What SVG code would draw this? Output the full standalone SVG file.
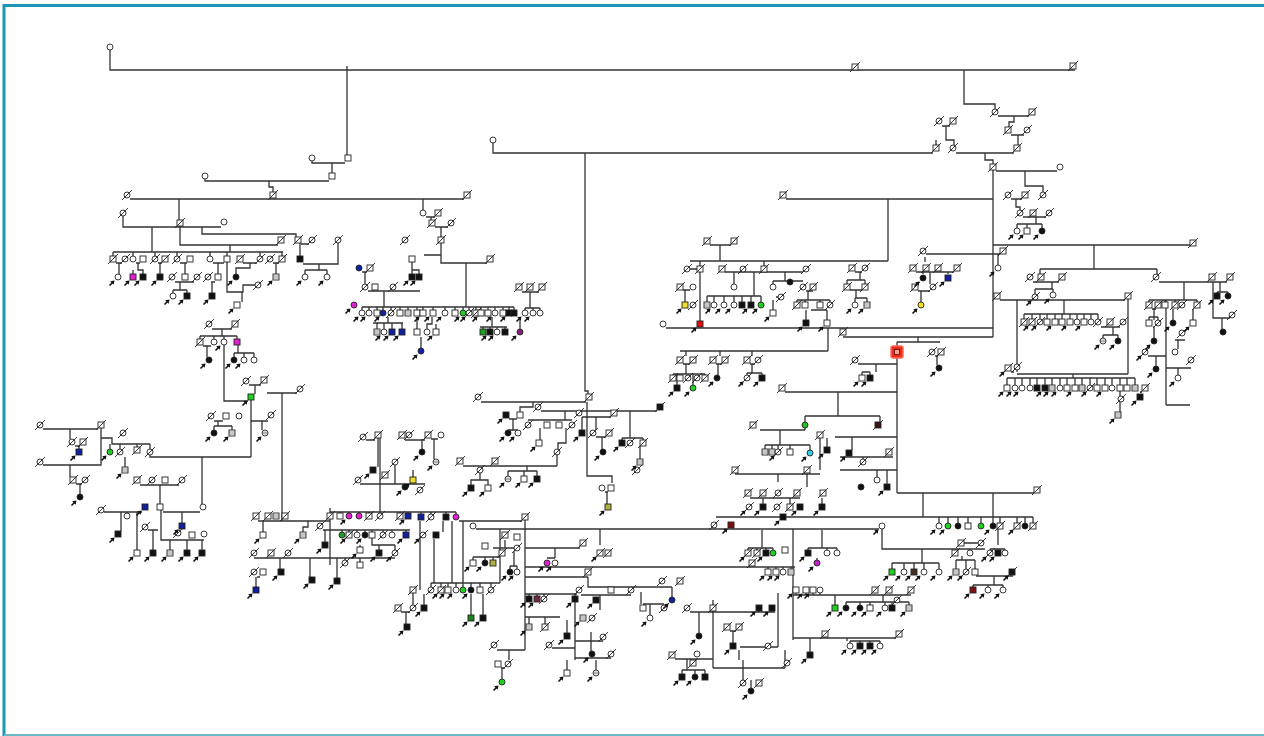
<svg xmlns="http://www.w3.org/2000/svg" xmlns:xlink="http://www.w3.org/1999/xlink" width="1264" height="736" viewBox="0 0 1264 736">
<style>
.ln{fill:none;stroke:#333;stroke-width:1.3}
.fr{fill:#fff;stroke:none}
.bd{stroke:#1b97b5;stroke-width:3;fill:none}
.bd2{stroke:#6ab8c8;stroke-width:2;fill:none}
</style>
<defs>
<g id="S"><rect x="-3" y="-3" width="6" height="6" stroke="#222" stroke-width="0.9"/></g>
<g id="C"><circle r="3" stroke="#222" stroke-width="0.9"/></g>
<g id="SD"><use href="#S"/><path d="M-5,5L5,-5" stroke="#222" stroke-width="0.9" fill="none"/></g>
<g id="CD"><use href="#C"/><path d="M-5,5L5,-5" stroke="#222" stroke-width="0.9" fill="none"/></g>
<g id="SP"><use href="#S"/><path d="M-3,-1H3M-3,1H3" stroke="#444" stroke-width="0.6" fill="none"/></g>
<g id="CP"><use href="#C"/><path d="M-3,-0.8H3M-3,0.8H3" stroke="#444" stroke-width="0.6" fill="none"/></g>
<g id="A"><path d="M-8.5,8.5L-5,5" stroke="#111" stroke-width="1.6" fill="none"/><path d="M-3.5,3.5L-7.8,4.3L-4.3,7.8Z" fill="#111"/></g>
</defs>
<rect class="fr" x="0" y="0" width="1264" height="736"/>
<path class="bd" d="M4,736V5.5H1264"/>
<path class="bd2" d="M4,735H1264"/>

<g id="connectors" class="ln">
<path d="M110,50V70H1075M347,66V155M312,161V163H345M332,163V173M205,179V181H329M269,181V187H273V192M130,199H464M964,70V104H995V109M998,116H1029M1014,116V122H1009V127M1011,135H1024M1018,135V145M942,126H950M946,126V140H954V145M936,140V145M493,143V153H933M956,153H1014M585,153V391H588V395M985,153V160H993V164M996,171H1057M993,170V337M1025,171V186H1043V192M1011,199H1022M1016,199V207H1020V210M1023,217H1046M1036,217V224M1017,224H1042M1017,224V228M1027,224V228M1042,224V228M786,199H993M888,199V261M993,245H1190"/>
<path d="M179,199V220M123,216V227H221M152,227V252M180,226V245H278M230,245V252M202,227V234H296V237M301,244H309M113,252H283M113,252V256M133,252V256M155,252V256M177,252V256M210,252V256M227,252V256M260,252V256M282,252V256M116,263H122M136,263H140M158,263H162M180,263H187M213,263H224M243,263H257M273,263H279M119,263V274M138,263V270H143V274M133,270V274M160,263V274M185,263V274M218,263V274M250,263V268H236V274M276,263V274M175,282H194M180,282V290M173,290H187M173,290V293M187,290V293M211,282H215M212,282V293M227,262V292H243V285H255M242,292V302M300,243V256M303,264H338V243M319,264V270M305,270H327M305,270V274M327,270V274"/>
<path d="M423,199V210M426,217H435M431,217V220M435,227H448M441,227V237M441,243V263H487M466,263V307M412,262V270M412,270H419V274M412,270V274M424,255H441M362,272H367M365,272V284M368,291H420M384,291V307M362,307H514M362,307V310M369,307V310M377,307V310M383,307V310M391,307V310M400,307V310M408,307V310M417,307V310M423,307V310M433,307V310M445,307V310M455,307V310M463,307V310M469,307V310M476,307V310M481,307V310M488,307V310M495,307V310M503,307V310M509,307V310M514,307V310M522,292H539M530,292V308M525,308H540M525,308V310M533,308V310M540,308V310M373,323H403M388,317V323M377,323V329M384,323V329M392,323V329M402,323V329M417,317V329M432,317V324H427V329M436,324V329M480,327H507M492,317V327M483,327V329M490,327V329M497,327V329M505,327V329M520,317V329M421,337V348"/>
<path d="M212,329H232M222,329V336M200,336H237M200,336V339M214,336V339M224,336V339M237,336V339M203,346H211M207,346V357M238,345V353M234,353H254M234,353V357M244,353V357M254,353V357M224,345V401H248M251,400V457M200,457H251M249,385H261M255,385V394M267,393H297M282,393V521M214,421H223M218,421V426M214,426H232M214,426V430M232,426V430M251,421H268M262,421V430"/>
<path d="M43,429H98M101,428V465H43M70,429V439M75,446H80M79,446V449M101,438H112V444H150M110,444V449M120,444V449M137,444V447M150,444V449M150,455V457H200M202,457V504M70,465V477M76,484H82M80,484V494M125,457V467M140,485H179M160,485V504M104,512H142M127,512V513M121,512V531M137,512V550M163,512H200M182,512V523M148,530H158M153,530V550M161,510V540H204M170,540V550M187,540V550M202,540V550"/>
<path d="M258,521H330M263,521V532M308,521V527H303V532M323,530H330M325,530V542M330,508V565M330,512H456M340,512V513M349,512V513M359,512V513M369,512V513M380,512V513M400,512V513M408,512V513M421,512V514M431,512V514M446,512V514M456,512V514M330,530H410M342,530V532M349,530V532M357,530V532M365,530V532M372,530V532M383,530V532M392,530V532M406,530V532M330,558H395M345,558V560M360,558V562M372,538V545H395M379,545V550M395,545V550M360,545V547M254,558H330M280,558V569M310,558V577M337,558V578M257,577H260M256,577V587M380,490V512"/>
<path d="M459,521H522M476,529H879M525,520V650M497,650H525M500,529V583M431,583H500M431,583V587M441,583V587M448,583V587M456,583V587M463,521V587M471,583V587M480,583V587M491,583V587M452,521V583M434,539V583M443,521V532M493,548H514M473,557H500M473,557V560M485,557V560M493,557V560M505,540V548M514,551V566M510,566H517M510,566V569M517,566V569M471,594V615M483,594V615M424,594V605M509,650V660M501,668H505M502,668V679"/>
<path d="M481,402H586M533,402V407H520V412M509,419H517M513,419V430M508,430H518M541,411H657M565,411V420M528,420H572M540,428V440M566,428V443H558V449M557,455V466M463,466H557M480,473V480H471V485M480,480H488V485M527,466V471M508,471H537M508,471V476M524,471V476M537,471V476M587,402V476H612V483M605,492H608M607,492V504M630,411V438M622,438H643M622,438V440M643,438V440M640,446V459M582,417H611M582,417V430M596,417V430M596,437H606M602,437V449"/>
<path d="M710,245H731M720,245V261M690,261H888M690,269H697M700,261V266M725,272H803M764,261V266M683,290H690M685,290V302M700,272V321M734,272V284M707,296H761M707,296V302M714,296V302M724,296V302M734,296V302M742,296V302M751,296V302M761,296V302M754,272V296M773,281H803M785,272V281M773,281V284M806,291H813M808,291V300M797,300H830M797,300V302M805,300V302M820,300V302M830,300V302M811,310H827M806,310V320M827,310V320M773,300V310M776,297H781M855,272H862M860,272V280M847,280H865M847,280V284M865,280V284M850,290H862M856,290V298M855,298H867M855,298V302M867,298V302M666,328H993M828,328V351M680,351H828M686,351V356M683,364H690M686,364V374M673,374H705M673,374V375M705,374V375M677,374V385M693,374V385M720,351V356M716,364H722M718,364V375M752,351V356M750,364H755M752,364V373M747,373H762M747,373V375M762,373V375"/>
<path d="M926,254H1000M998,254V265M925,257V262M916,272H954M923,272V274M948,272V274M930,272V284M918,291H930M921,291V302M843,337H993M918,337V342M897,342H940M897,342V346M935,356H938M937,356V365M897,357V493M858,364H897M876,364V372M862,372H870M862,372V375M870,372V375M785,392H897M838,392V416M805,416H880M805,416V430M760,430H805M780,430V445M765,445H810M765,445V449M772,445V449M778,445V449M790,445V449M810,445V450M820,438V470M827,438V447M735,474H820M778,474V482M807,474V487M880,416V422M835,437H897M852,437V450M840,457H893M863,457V459M840,470H897M877,470V477M887,470V484M750,498H800M763,498V504M790,498V504M822,498V504"/>
<path d="M897,493H1034M923,493V517M993,493V517M716,517H1033M939,517V523M948,517V523M958,517V523M968,517V523M981,517V523M993,517V523M1000,517V523M1017,517V523M1025,517V523M1033,517V523M882,529V549H985M922,549V563M892,563H939M892,563V569M904,563V569M914,563V569M924,563V569M939,563V569M964,543H978M958,549V550M970,549V550M956,560H975M956,560V569M966,560V569M975,560V569M962,556V560M976,576H1013M994,576V585M973,585H1003M973,585V587M988,585V587M1003,585V587M998,529V545M990,549H1005M990,549V550M1005,549V550M793,595H911M883,595V602M846,602H909M846,602V605M860,602V605M870,602V605M885,602V605M892,602V605M909,602V605M793,638H896M847,638V641M850,641H880M850,641V643M860,641V643M870,641V643M880,641V643M810,638V652"/>
<path d="M525,548H580M555,548V558M547,558H555M600,529V545M525,567H795M525,577H588M588,577V587H672M672,587V597M525,594H577M529,594V596M537,594V596M544,594V596M575,594V596M581,595H631M600,595V610M525,617H560M529,617V624M545,617V624M575,598V660M567,620V633M552,648H575M575,641H603M591,632V651M575,658H611M596,660V670M567,660V670M641,592V604M643,604H664M650,604V615M713,600V668M690,612H713M699,612V633M675,659H713M687,659V670M682,670H705M682,670V674M695,670V674M705,670V674M713,668H785M785,650V668M739,650V660M713,612H775M759,612V605M772,612V605M778,593V647M740,647H778M733,631V643M730,631H736M793,529V640M762,530V548M748,548H773M748,548V550M757,548V550M766,548V550M773,548V550M768,567V569M776,567V569M783,567V569M791,567V569M808,548H837M822,530V548M808,548V550M827,548V550M837,548V550M817,558V560M796,593V595M806,593V595M813,593V595M820,593V595M835,595V605M743,660V680M751,680V688M759,680V680"/>
<path d="M1094,245V269M1040,269H1157M1040,269V274M1157,269V274M1033,282H1059M1052,282V289M1035,289H1053M1035,289V294M1053,289V292M1000,300H1125M1017,300V372M1011,372H1014M1128,299V374M1017,374H1128M1073,374V378M1007,378H1135M1007,378V385M1015,378V385M1022,378V385M1030,378V385M1037,378V385M1045,378V385M1052,378V385M1060,378V385M1067,378V385M1075,378V385M1082,378V385M1090,378V385M1097,378V385M1105,378V385M1112,378V385M1120,378V396M1127,378V385M1135,378V385M1064,300V314M1024,314H1098M1024,314V319M1032,314V319M1040,314V319M1047,314V319M1055,314V319M1062,314V319M1070,314V319M1077,314V319M1084,314V319M1091,314V319M1098,314V319M1101,327H1120M1113,327V335M1103,335H1118M1103,335V338M1118,335V338M1140,392H1142M1120,402V412M1159,282H1227M1184,282V300M1149,300H1197M1149,300V302M1165,300V302M1175,300V302M1197,300V302M1166,300V405M1152,309H1156M1154,309V320M1149,317H1158M1158,317V320M1149,317V320M1193,309V320M1173,309V320M1154,326V338M1148,356H1166M1156,356V366M1175,340H1185M1178,340V349M1166,368H1191M1178,368V375M1166,405H1190M1213,282V318H1230M1220,282V292M1217,292H1228M1217,292V293M1228,292V293M1222,318V329"/>
<path d="M366,440H375M378,438V467M405,440H425M431,439H438M434,439V459M422,439V449M360,484H425M395,465V484M413,470V477M380,438V490M401,612H410M406,612V624M413,593V605M420,521V590"/>
</g>

<g id="nodes" fill="#fff">
<use id="t1" href="#C" x="110" y="47"/><use id="t2" href="#S" x="348" y="158"/><use id="t3" href="#C" x="312" y="158"/><use id="t4" href="#S" x="332" y="176"/><use id="t5" href="#C" x="205" y="176"/><use id="t6" href="#SD" x="273" y="195"/><use id="t7" href="#CD" x="127" y="195"/><use id="t8" href="#SD" x="467" y="195"/><use id="t9" href="#SD" x="855" y="67"/><use id="t10" href="#SD" x="1073" y="66"/><use id="t11" href="#CD" x="995" y="112"/><use id="t12" href="#SD" x="1032" y="112"/><use id="t13" href="#SD" x="1008" y="130"/><use id="t14" href="#CD" x="1027" y="130"/><use id="t15" href="#SD" x="1017" y="148"/><use id="t16" href="#CD" x="939" y="121"/><use id="t17" href="#SD" x="953" y="121"/><use id="t18" href="#SD" x="936" y="148"/><use id="t19" href="#CD" x="953" y="148"/><use id="t20" href="#C" x="493" y="140"/><use id="t21" href="#SD" x="993" y="167"/><use id="t22" href="#C" x="1060" y="167"/><use id="t23" href="#CD" x="1008" y="195"/><use id="t24" href="#SD" x="1025" y="195"/><use id="t25" href="#CD" x="1043" y="195"/><use id="t26" href="#CD" x="1020" y="213"/><use id="t27" href="#SD" x="1033" y="213"/><use id="t28" href="#CD" x="1049" y="213"/><use id="t29" href="#C" x="1017" y="231"/><use id="t30" href="#S" x="1027" y="231"/><use id="t31" href="#C" x="1042" y="231" fill="#111"/><use id="t32" href="#SD" x="783" y="195"/><use id="t33" href="#SD" x="1193" y="243"/>

<use id="a1" href="#CD" x="123" y="213"/><use id="a2" href="#SD" x="180" y="223"/><use id="a3" href="#C" x="224" y="222"/><use id="a4" href="#SD" x="281" y="240"/><use id="a5" href="#SD" x="298" y="240"/><use id="a6" href="#CD" x="312" y="240"/><use id="a7" href="#CD" x="338" y="240"/><use id="a8" href="#CD" x="405" y="240"/>
<use id="a9" href="#SD" x="113" y="259"/><use id="a10" href="#CD" x="125" y="259"/><use id="a11" href="#C" x="133" y="259"/><use id="a12" href="#S" x="143" y="259"/><use id="a13" href="#CD" x="155" y="259"/><use id="a14" href="#SD" x="165" y="259"/><use id="a15" href="#CD" x="177" y="259"/><use id="a16" href="#S" x="190" y="259"/><use id="a17" href="#C" x="210" y="259"/><use id="a18" href="#S" x="227" y="259"/><use id="a19" href="#SD" x="240" y="259"/><use id="a20" href="#CD" x="260" y="259"/><use id="a21" href="#CD" x="270" y="259"/><use id="a22" href="#SD" x="282" y="259"/><use id="a23" href="#S" x="300" y="259" fill="#111"/>
<use id="a24" href="#C" x="118" y="277"/><use id="a25" href="#S" x="133" y="277" fill="#e020d0"/><use id="a26" href="#S" x="143" y="277" fill="#111"/><use id="a27" href="#S" x="160" y="277" fill="#111"/><use id="a28" href="#CD" x="172" y="277"/><use id="a29" href="#S" x="185" y="277"/><use id="a30" href="#CD" x="197" y="277"/><use id="a31" href="#CD" x="208" y="277"/><use id="a32" href="#S" x="218" y="277"/><use id="a33" href="#C" x="236" y="277" fill="#111"/><use id="a34" href="#SP" x="276" y="277"/><use id="a35" href="#C" x="305" y="277"/><use id="a36" href="#C" x="327" y="277"/><use id="a37" href="#C" x="173" y="296"/><use id="a38" href="#S" x="187" y="296" fill="#111"/><use id="a39" href="#S" x="212" y="296" fill="#111"/><use id="a40" href="#CD" x="258" y="285"/><use id="a41" href="#S" x="237" y="305"/>

<use id="b1" href="#C" x="423" y="213"/><use id="b2" href="#SD" x="438" y="213"/><use id="b3" href="#SD" x="432" y="223"/><use id="b4" href="#CD" x="451" y="223"/><use id="b5" href="#SD" x="441" y="240"/><use id="b6" href="#S" x="412" y="259"/><use id="b7" href="#S" x="412" y="277" fill="#111"/><use id="b8" href="#S" x="419" y="277" fill="#111"/><use id="b9" href="#SD" x="490" y="259"/>
<use id="b10" href="#C" x="359" y="268" fill="#1020a0"/><use id="b11" href="#SD" x="370" y="268"/><use id="b12" href="#CD" x="365" y="287"/><use id="b13" href="#S" x="375" y="287"/><use id="b14" href="#CD" x="393" y="287"/>
<use id="b15" href="#C" x="362" y="313"/><use id="b16" href="#C" x="369" y="313"/><use id="b17" href="#S" x="377" y="313"/><use id="b18" href="#C" x="383" y="313" fill="#1020a0"/><use id="b19" href="#CD" x="391" y="313"/><use id="b20" href="#S" x="400" y="313"/><use id="b21" href="#SP" x="408" y="313"/><use id="b22" href="#S" x="417" y="313"/><use id="b23" href="#S" x="423" y="313"/><use id="b24" href="#S" x="433" y="313"/><use id="b25" href="#C" x="445" y="313"/><use id="b26" href="#S" x="455" y="313"/><use id="b27" href="#C" x="463" y="313" fill="#20d020"/><use id="b28" href="#CD" x="469" y="313"/><use id="b29" href="#SD" x="476" y="313"/><use id="b30" href="#S" x="481" y="313"/><use id="b31" href="#S" x="488" y="313"/><use id="b32" href="#C" x="495" y="313"/><use id="b33" href="#S" x="503" y="313"/><use id="b34" href="#S" x="509" y="313" fill="#111"/><use id="b35" href="#S" x="514" y="313" fill="#111"/>
<use id="b36" href="#SD" x="519" y="287"/><use id="b37" href="#SD" x="530" y="287"/><use id="b38" href="#SD" x="542" y="287"/><use id="b39" href="#C" x="525" y="313"/><use id="b40" href="#C" x="533" y="313"/><use id="b41" href="#C" x="540" y="313"/><use id="b42" href="#C" x="354" y="305" fill="#e020d0"/>
<use id="b43" href="#SP" x="377" y="332"/><use id="b44" href="#C" x="384" y="332"/><use id="b45" href="#S" x="392" y="332" fill="#1020a0"/><use id="b46" href="#S" x="402" y="332" fill="#1020a0"/><use id="b47" href="#S" x="417" y="332"/><use id="b48" href="#C" x="427" y="332"/><use id="b49" href="#S" x="436" y="332"/><use id="b50" href="#S" x="483" y="332" fill="#20a020"/><use id="b51" href="#S" x="490" y="332" fill="#111"/><use id="b52" href="#C" x="497" y="332"/><use id="b53" href="#S" x="505" y="332" fill="#111"/><use id="b54" href="#C" x="520" y="332" fill="#802080"/><use id="b55" href="#C" x="421" y="351" fill="#1020a0"/>

<use id="c1" href="#CD" x="209" y="324"/><use id="c2" href="#SD" x="235" y="324"/><use id="c3" href="#SD" x="200" y="342"/><use id="c4" href="#C" x="214" y="342"/><use id="c5" href="#C" x="224" y="342"/><use id="c6" href="#S" x="237" y="342" fill="#e020d0"/><use id="c7" href="#C" x="209" y="360" fill="#111"/><use id="c8" href="#C" x="234" y="360" fill="#111"/><use id="c9" href="#C" x="244" y="360"/><use id="c10" href="#C" x="254" y="360"/><use id="c11" href="#S" x="251" y="397" fill="#20d020"/><use id="c12" href="#CD" x="246" y="381"/><use id="c13" href="#SD" x="264" y="380"/><use id="c14" href="#CD" x="300" y="389"/><use id="c15" href="#CD" x="211" y="416"/><use id="c16" href="#S" x="226" y="416"/><use id="c17" href="#C" x="239" y="416"/><use id="c18" href="#C" x="214" y="433" fill="#111"/><use id="c19" href="#SP" x="232" y="433"/><use id="c20" href="#CD" x="271" y="415"/><use id="c21" href="#CP" x="265" y="433"/>

<use id="d1" href="#CD" x="40" y="425"/><use id="d2" href="#SD" x="101" y="425"/><use id="d3" href="#CD" x="40" y="462"/><use id="d4" href="#CD" x="72" y="442"/><use id="d5" href="#SD" x="83" y="442"/><use id="d6" href="#S" x="79" y="452" fill="#1020a0"/><use id="d7" href="#CD" x="123" y="433"/><use id="d8" href="#C" x="110" y="452" fill="#20d020"/><use id="d9" href="#CD" x="120" y="452"/><use id="d10" href="#SD" x="137" y="450"/><use id="d11" href="#CD" x="150" y="452"/><use id="d12" href="#SD" x="73" y="480"/><use id="d13" href="#CD" x="85" y="480"/><use id="d14" href="#C" x="80" y="497" fill="#111"/><use id="d15" href="#SP" x="125" y="470"/><use id="d16" href="#SD" x="137" y="480"/><use id="d17" href="#CD" x="152" y="480"/><use id="d18" href="#S" x="165" y="480"/><use id="d19" href="#CD" x="182" y="480"/><use id="d20" href="#CD" x="101" y="510"/><use id="d21" href="#S" x="145" y="507" fill="#1020a0"/><use id="d22" href="#C" x="127" y="516"/><use id="d23" href="#S" x="118" y="534" fill="#111"/><use id="d24" href="#S" x="160" y="507"/><use id="d25" href="#C" x="203" y="507"/><use id="d26" href="#S" x="182" y="526" fill="#1020a0"/><use id="d27" href="#CD" x="145" y="527"/><use id="d28" href="#CD" x="178" y="533"/><use id="d29" href="#S" x="192" y="535"/><use id="d30" href="#C" x="204" y="534"/><use id="d31" href="#S" x="137" y="553"/><use id="d32" href="#S" x="153" y="553" fill="#111"/><use id="d33" href="#SP" x="170" y="553"/><use id="d34" href="#S" x="187" y="553" fill="#111"/><use id="d35" href="#S" x="202" y="553" fill="#111"/>

<use id="e1" href="#SD" x="256" y="516"/><use id="e2" href="#SD" x="268" y="516"/><use id="e3" href="#SP" x="276" y="516"/><use id="e4" href="#SD" x="285" y="516"/><use id="e5" href="#SD" x="330" y="516"/><use id="e6" href="#S" x="340" y="516"/><use id="e7" href="#C" x="349" y="516" fill="#e020d0"/><use id="e8" href="#C" x="359" y="516" fill="#e020d0"/><use id="e9" href="#SD" x="369" y="516"/><use id="e10" href="#CD" x="380" y="516"/><use id="e11" href="#SD" x="400" y="516"/><use id="e12" href="#S" x="408" y="516" fill="#1020a0"/><use id="e13" href="#S" x="421" y="517" fill="#1020a0"/><use id="e14" href="#CD" x="431" y="517"/><use id="e15" href="#S" x="446" y="517" fill="#111"/><use id="e16" href="#C" x="456" y="517" fill="#e020d0"/>
<use id="e17" href="#S" x="263" y="535"/><use id="e18" href="#SP" x="303" y="535"/><use id="e19" href="#CD" x="320" y="526"/><use id="e20" href="#S" x="325" y="545" fill="#111"/><use id="e21" href="#C" x="342" y="535" fill="#20a020"/><use id="e22" href="#SD" x="349" y="535"/><use id="e23" href="#C" x="357" y="535"/><use id="e24" href="#C" x="365" y="535" fill="#111"/><use id="e25" href="#S" x="372" y="535"/><use id="e26" href="#CD" x="383" y="535"/><use id="e27" href="#C" x="392" y="535"/><use id="e28" href="#S" x="406" y="535" fill="#1020a0"/><use id="e29" href="#CD" x="423" y="535"/><use id="e30" href="#S" x="436" y="535" fill="#111"/><use id="e31" href="#S" x="360" y="550"/><use id="e32" href="#S" x="379" y="553" fill="#111"/><use id="e33" href="#CD" x="395" y="553"/><use id="e34" href="#CD" x="345" y="563"/><use id="e35" href="#S" x="360" y="565"/><use id="e36" href="#CD" x="254" y="553"/><use id="e37" href="#SD" x="271" y="553"/><use id="e38" href="#CD" x="288" y="553"/><use id="e39" href="#CD" x="254" y="572"/><use id="e40" href="#S" x="263" y="572"/><use id="e41" href="#S" x="256" y="590" fill="#1020a0"/><use id="e42" href="#S" x="281" y="572" fill="#111"/><use id="e43" href="#S" x="312" y="580" fill="#111"/><use id="e44" href="#S" x="337" y="581" fill="#111"/>

<use id="f1" href="#C" x="473" y="526"/><use id="f2" href="#SD" x="525" y="517"/><use id="f3" href="#SD" x="505" y="535"/><use id="f4" href="#S" x="517" y="537"/><use id="f5" href="#S" x="485" y="546"/><use id="f6" href="#CD" x="517" y="548"/><use id="f7" href="#S" x="473" y="563"/><use id="f8" href="#C" x="485" y="563" fill="#111"/><use id="f9" href="#S" x="493" y="563" fill="#b0b040"/><use id="f10" href="#SD" x="502" y="553"/><use id="f11" href="#C" x="510" y="572" fill="#111"/><use id="f12" href="#C" x="517" y="572"/><use id="f13" href="#CD" x="431" y="590"/><use id="f14" href="#SD" x="441" y="590"/><use id="f15" href="#S" x="448" y="590"/><use id="f16" href="#C" x="456" y="590"/><use id="f17" href="#C" x="463" y="590" fill="#20d020"/><use id="f18" href="#C" x="471" y="590" fill="#111"/><use id="f19" href="#S" x="480" y="590"/><use id="f20" href="#CD" x="491" y="590"/><use id="f21" href="#S" x="424" y="608" fill="#111"/><use id="f22" href="#S" x="471" y="618" fill="#208020"/><use id="f23" href="#S" x="483" y="618" fill="#111"/><use id="f24" href="#CD" x="494" y="645"/><use id="f25" href="#S" x="498" y="664"/><use id="f26" href="#CD" x="508" y="664"/><use id="f27" href="#C" x="502" y="682" fill="#20d020"/>

<use id="g1" href="#CD" x="478" y="397"/><use id="g2" href="#SD" x="589" y="397"/><use id="g3" href="#S" x="506" y="415" fill="#111"/><use id="g4" href="#S" x="520" y="415"/><use id="g5" href="#C" x="508" y="433" fill="#111"/><use id="g6" href="#C" x="518" y="433"/><use id="g7" href="#CD" x="538" y="407"/><use id="g8" href="#SD" x="660" y="407" fill="#111"/><use id="g9" href="#CD" x="528" y="425"/><use id="g10" href="#S" x="547" y="425"/><use id="g11" href="#S" x="559" y="425"/><use id="g12" href="#CD" x="572" y="425"/><use id="g13" href="#S" x="539" y="443"/><use id="g14" href="#CD" x="557" y="452"/><use id="g15" href="#SD" x="460" y="461"/><use id="g16" href="#SD" x="495" y="461"/><use id="g17" href="#CD" x="480" y="470"/><use id="g18" href="#S" x="471" y="488" fill="#111"/><use id="g19" href="#S" x="488" y="488"/><use id="g20" href="#CP" x="508" y="479"/><use id="g21" href="#S" x="524" y="479"/><use id="g22" href="#S" x="537" y="479" fill="#111"/><use id="g23" href="#C" x="602" y="488"/><use id="g24" href="#S" x="611" y="488"/><use id="g25" href="#S" x="608" y="507" fill="#b0b040"/><use id="g26" href="#S" x="622" y="443" fill="#111"/><use id="g27" href="#CD" x="630" y="443"/><use id="g28" href="#SD" x="643" y="443"/><use id="g29" href="#SP" x="640" y="462"/><use id="g30" href="#CD" x="637" y="470"/><use id="g31" href="#CD" x="579" y="413"/><use id="g32" href="#SD" x="614" y="413"/><use id="g33" href="#CD" x="593" y="433"/><use id="g34" href="#SD" x="609" y="433"/><use id="g35" href="#C" x="603" y="452" fill="#111"/><use id="g36" href="#S" x="582" y="433" fill="#111"/>

<use id="h1" href="#SD" x="707" y="241"/><use id="h2" href="#SD" x="734" y="241"/><use id="h3" href="#CD" x="687" y="269"/><use id="h4" href="#SD" x="700" y="269"/><use id="h5" href="#SD" x="722" y="269"/><use id="h6" href="#CD" x="743" y="269"/><use id="h7" href="#SD" x="764" y="269"/><use id="h8" href="#CD" x="806" y="269"/><use id="h9" href="#SD" x="680" y="287"/><use id="h10" href="#C" x="693" y="287"/><use id="h11" href="#S" x="685" y="305" fill="#f0e020"/><use id="h12" href="#CD" x="693" y="305"/><use id="h13" href="#S" x="700" y="324" fill="#e01010"/><use id="h14" href="#C" x="734" y="287"/><use id="h15" href="#SP" x="707" y="305"/><use id="h16" href="#C" x="714" y="305"/><use id="h17" href="#C" x="724" y="305"/><use id="h18" href="#C" x="734" y="305"/><use id="h19" href="#S" x="742" y="305" fill="#111"/><use id="h20" href="#S" x="751" y="305" fill="#111"/><use id="h21" href="#C" x="761" y="305" fill="#20d020"/><use id="h22" href="#C" x="773" y="287"/><use id="h23" href="#C" x="790" y="282" fill="#111"/><use id="h24" href="#CD" x="803" y="287"/><use id="h25" href="#SD" x="813" y="287"/><use id="h26" href="#SD" x="797" y="305"/><use id="h27" href="#S" x="805" y="305"/><use id="h28" href="#S" x="820" y="305"/><use id="h29" href="#CD" x="830" y="305"/><use id="h30" href="#S" x="806" y="323" fill="#111"/><use id="h31" href="#S" x="827" y="323"/><use id="h32" href="#CD" x="781" y="297"/><use id="h33" href="#S" x="773" y="313"/><use id="h34" href="#SD" x="852" y="268"/><use id="h35" href="#CD" x="865" y="268"/><use id="h36" href="#SD" x="847" y="287"/><use id="h37" href="#SD" x="865" y="287"/><use id="h38" href="#C" x="855" y="305"/><use id="h39" href="#SP" x="867" y="305"/><use id="h40" href="#C" x="663" y="324"/>
<use id="h41" href="#SD" x="680" y="360"/><use id="h42" href="#SD" x="693" y="360"/><use id="h43" href="#SD" x="713" y="360"/><use id="h44" href="#SD" x="725" y="360"/><use id="h45" href="#SD" x="747" y="360"/><use id="h46" href="#CD" x="758" y="360"/><use id="h47" href="#SD" x="673" y="378"/><use id="h48" href="#S" x="680" y="378"/><use id="h49" href="#CD" x="688" y="378"/><use id="h50" href="#CD" x="697" y="378"/><use id="h51" href="#SD" x="705" y="378"/><use id="h52" href="#S" x="677" y="388" fill="#111"/><use id="h53" href="#C" x="693" y="388" fill="#20d020"/><use id="h54" href="#C" x="717" y="378" fill="#111"/><use id="h55" href="#CD" x="747" y="378"/><use id="h56" href="#S" x="762" y="378" fill="#111"/>

<use id="i1" href="#CD" x="923" y="251"/><use id="i2" href="#SD" x="1003" y="251"/><use id="i3" href="#C" x="998" y="268"/><use id="i4" href="#SD" x="913" y="268"/><use id="i5" href="#SD" x="926" y="268"/><use id="i6" href="#SD" x="938" y="268"/><use id="i7" href="#SD" x="957" y="268"/><use id="i8" href="#C" x="923" y="278" fill="#111"/><use id="i9" href="#S" x="948" y="278" fill="#1020a0"/><use id="i10" href="#SD" x="915" y="287"/><use id="i11" href="#CD" x="933" y="287"/><use id="i12" href="#C" x="921" y="305" fill="#f0e020"/>
<g id="i13"><rect x="891" y="346" width="12" height="12" rx="2" fill="#f02a1a" stroke="#ff6a5a" stroke-width="1.5"/><rect x="894.5" y="349.5" width="5" height="5" fill="#f8a090" stroke="#300" stroke-width="0.7"/></g>
<use id="i14" href="#CD" x="932" y="352"/><use id="i15" href="#SD" x="941" y="352"/><use id="i16" href="#C" x="939" y="368" fill="#111"/><use id="i17" href="#CD" x="855" y="360"/><use id="i18" href="#S" x="862" y="378"/><use id="i19" href="#S" x="870" y="378" fill="#111"/><use id="i20" href="#SD" x="843" y="332"/>

<use id="j1" href="#SD" x="782" y="388"/><use id="j2" href="#SD" x="753" y="425"/><use id="j3" href="#C" x="805" y="425" fill="#20c020"/><use id="j4" href="#SP" x="765" y="452"/><use id="j5" href="#SP" x="772" y="452"/><use id="j6" href="#CD" x="778" y="452"/><use id="j7" href="#S" x="790" y="452"/><use id="j8" href="#C" x="810" y="453" fill="#30d0e0"/><use id="j9" href="#S" x="827" y="450" fill="#111"/><use id="j10" href="#SD" x="820" y="435"/><use id="j11" href="#SD" x="735" y="470"/><use id="j12" href="#SD" x="807" y="470"/><use id="j13" href="#SD" x="878" y="425" fill="#401010"/><use id="j14" href="#S" x="849" y="453" fill="#111"/><use id="j15" href="#CD" x="863" y="462"/><use id="j16" href="#SD" x="889" y="452"/><use id="j17" href="#C" x="877" y="480"/><use id="j18" href="#S" x="887" y="487" fill="#111"/><use id="j19" href="#C" x="861" y="487" fill="#111"/>
<use id="j20" href="#SD" x="748" y="493"/><use id="j21" href="#SD" x="763" y="493"/><use id="j22" href="#CD" x="778" y="493"/><use id="j23" href="#SD" x="797" y="493"/><use id="j24" href="#SD" x="823" y="493"/><use id="j25" href="#CD" x="749" y="507"/><use id="j26" href="#S" x="763" y="507" fill="#111"/><use id="j27" href="#CD" x="777" y="507"/><use id="j28" href="#SD" x="790" y="507"/><use id="j29" href="#S" x="800" y="507" fill="#111"/><use id="j30" href="#S" x="822" y="507" fill="#111"/><use id="j31" href="#S" x="783" y="517" fill="#111"/><use id="j32" href="#CD" x="714" y="525"/><use id="j33" href="#S" x="731" y="525" fill="#801010"/><use id="j34" href="#SD" x="1037" y="490"/>

<use id="k1" href="#C" x="882" y="526"/><use id="k2" href="#C" x="939" y="526"/><use id="k3" href="#C" x="948" y="526" fill="#20d020"/><use id="k4" href="#C" x="958" y="526" fill="#111"/><use id="k5" href="#S" x="968" y="526"/><use id="k6" href="#C" x="981" y="526" fill="#20d020"/><use id="k7" href="#C" x="993" y="526" fill="#111"/><use id="k8" href="#SD" x="1000" y="526"/><use id="k9" href="#SD" x="1017" y="526"/><use id="k10" href="#C" x="1025" y="526" fill="#111"/><use id="k11" href="#SD" x="1033" y="526"/><use id="k12" href="#S" x="892" y="572" fill="#20d020"/><use id="k13" href="#C" x="904" y="572"/><use id="k14" href="#S" x="914" y="572" fill="#403020"/><use id="k15" href="#C" x="924" y="572"/><use id="k16" href="#C" x="939" y="572"/><use id="k17" href="#SD" x="961" y="543"/><use id="k18" href="#CD" x="981" y="543"/><use id="k19" href="#SD" x="955" y="553"/><use id="k20" href="#C" x="970" y="553"/><use id="k21" href="#SP" x="956" y="572"/><use id="k22" href="#CD" x="966" y="572"/><use id="k23" href="#S" x="975" y="572"/><use id="k24" href="#SD" x="1012" y="572" fill="#111"/><use id="k25" href="#S" x="973" y="590" fill="#801010"/><use id="k26" href="#C" x="988" y="590"/><use id="k27" href="#C" x="1003" y="590"/><use id="k28" href="#CD" x="990" y="553"/><use id="k29" href="#S" x="998" y="553" fill="#111"/><use id="k30" href="#C" x="1005" y="553"/><use id="k31" href="#SD" x="875" y="590"/><use id="k32" href="#SD" x="889" y="590"/><use id="k33" href="#SD" x="911" y="590"/><use id="k34" href="#C" x="846" y="608" fill="#111"/><use id="k35" href="#C" x="860" y="608" fill="#111"/><use id="k36" href="#S" x="870" y="608"/><use id="k37" href="#C" x="885" y="608"/><use id="k38" href="#S" x="892" y="608" fill="#111"/><use id="k39" href="#SP" x="909" y="608"/><use id="k40" href="#CD" x="897" y="600"/><use id="k41" href="#SD" x="899" y="634"/><use id="k42" href="#C" x="850" y="646"/><use id="k43" href="#S" x="860" y="646" fill="#111"/><use id="k44" href="#S" x="870" y="646" fill="#111"/><use id="k45" href="#C" x="880" y="646"/>

<use id="m1" href="#SD" x="600" y="553"/><use id="m2" href="#SD" x="608" y="553"/><use id="m3" href="#SD" x="583" y="543"/><use id="m4" href="#C" x="547" y="563" fill="#e020d0"/><use id="m5" href="#C" x="555" y="563"/><use id="m6" href="#SD" x="752" y="563"/><use id="m7" href="#SD" x="588" y="572"/><use id="m8" href="#C" x="672" y="600" fill="#1020a0"/><use id="m10" href="#CD" x="662" y="581"/><use id="m11" href="#SD" x="680" y="581"/><use id="m12" href="#S" x="529" y="599" fill="#111"/><use id="m13" href="#SP" x="537" y="599" fill="#802040"/><use id="m14" href="#CD" x="544" y="599"/><use id="m15" href="#CD" x="579" y="590"/><use id="m16" href="#S" x="611" y="590"/><use id="m17" href="#CD" x="631" y="590"/><use id="m18" href="#S" x="575" y="599" fill="#111"/><use id="m19" href="#S" x="596" y="600" fill="#111"/><use id="m20" href="#SP" x="583" y="618"/><use id="m21" href="#CD" x="592" y="618"/><use id="m23" href="#SP" x="529" y="627"/><use id="m24" href="#SD" x="545" y="627"/><use id="m25" href="#S" x="567" y="636" fill="#111"/><use id="m26" href="#CD" x="549" y="645"/><use id="m27" href="#C" x="592" y="654" fill="#111"/><use id="m28" href="#CD" x="603" y="637"/><use id="m29" href="#CP" x="596" y="673"/><use id="m30" href="#S" x="567" y="673"/><use id="m31" href="#CD" x="611" y="654"/><use id="m32" href="#S" x="643" y="608"/><use id="m33" href="#CD" x="664" y="608"/><use id="m34" href="#C" x="650" y="618"/>
<use id="m35" href="#CD" x="687" y="608"/><use id="m36" href="#SD" x="713" y="608"/><use id="m37" href="#C" x="699" y="636" fill="#111"/><use id="m38" href="#SD" x="672" y="655"/><use id="m39" href="#C" x="697" y="654"/><use id="m40" href="#S" x="682" y="677" fill="#111"/><use id="m41" href="#C" x="695" y="677" fill="#111"/><use id="m42" href="#S" x="705" y="677" fill="#111"/><use id="m43" href="#SD" x="693" y="663"/><use id="m44" href="#S" x="759" y="608" fill="#111"/><use id="m45" href="#S" x="772" y="608" fill="#111"/><use id="m46" href="#SD" x="727" y="627"/><use id="m47" href="#SD" x="739" y="627"/><use id="m48" href="#S" x="733" y="646" fill="#111"/><use id="m49" href="#CD" x="768" y="646"/><use id="m50" href="#CD" x="743" y="683"/><use id="m51" href="#SD" x="759" y="683"/><use id="m52" href="#C" x="751" y="691" fill="#111"/><use id="m53" href="#CD" x="787" y="663"/>
<use id="m54" href="#SD" x="748" y="553"/><use id="m55" href="#SD" x="757" y="553"/><use id="m56" href="#S" x="766" y="553" fill="#111"/><use id="m57" href="#C" x="773" y="553" fill="#20d020"/><use id="m58" href="#S" x="785" y="550"/><use id="m59" href="#S" x="768" y="572"/><use id="m60" href="#S" x="776" y="572"/><use id="m61" href="#C" x="783" y="572"/><use id="m62" href="#SP" x="791" y="572"/><use id="m63" href="#S" x="808" y="553" fill="#111"/><use id="m64" href="#C" x="827" y="553"/><use id="m65" href="#C" x="837" y="553"/><use id="m66" href="#C" x="817" y="563" fill="#c020c0"/><use id="m67" href="#S" x="796" y="590"/><use id="m68" href="#S" x="806" y="590"/><use id="m69" href="#S" x="813" y="590"/><use id="m70" href="#C" x="820" y="590"/><use id="m71" href="#S" x="835" y="608" fill="#20d020"/><use id="m72" href="#SD" x="825" y="634"/><use id="m73" href="#S" x="810" y="655" fill="#111"/>

<use id="r1" href="#CD" x="1030" y="277"/><use id="r2" href="#SD" x="1041" y="277"/><use id="r3" href="#SD" x="1062" y="277"/><use id="r4" href="#CD" x="1035" y="297"/><use id="r5" href="#C" x="1053" y="295"/><use id="r6" href="#SD" x="997" y="296"/><use id="r7" href="#SD" x="1128" y="296"/>
<use id="r8" href="#SD" x="1024" y="322"/><use id="r9" href="#SD" x="1032" y="322"/><use id="r10" href="#CD" x="1040" y="322"/><use id="r11" href="#S" x="1047" y="322"/><use id="r12" href="#S" x="1055" y="322"/><use id="r13" href="#S" x="1062" y="322"/><use id="r14" href="#S" x="1070" y="322"/><use id="r15" href="#C" x="1077" y="322"/><use id="r16" href="#S" x="1084" y="322"/><use id="r17" href="#C" x="1091" y="322"/><use id="r18" href="#CD" x="1098" y="322"/><use id="r19" href="#SD" x="1110" y="322"/><use id="r20" href="#CD" x="1123" y="322"/><use id="r21" href="#CP" x="1103" y="341"/><use id="r22" href="#C" x="1118" y="341" fill="#111"/><use id="r23" href="#SD" x="1008" y="368"/><use id="r24" href="#CD" x="1017" y="367"/>
<use id="r25" href="#S" x="1007" y="388"/><use id="r26" href="#C" x="1015" y="388"/><use id="r27" href="#C" x="1022" y="388"/><use id="r28" href="#C" x="1030" y="388"/><use id="r29" href="#S" x="1037" y="388" fill="#111"/><use id="r30" href="#S" x="1045" y="388" fill="#111"/><use id="r31" href="#SP" x="1052" y="388"/><use id="r32" href="#C" x="1060" y="388"/><use id="r33" href="#S" x="1067" y="388"/><use id="r34" href="#S" x="1075" y="388"/><use id="r35" href="#SP" x="1082" y="388"/><use id="r36" href="#CD" x="1090" y="388"/><use id="r37" href="#S" x="1097" y="388"/><use id="r38" href="#S" x="1105" y="388"/><use id="r39" href="#C" x="1112" y="388"/><use id="r40" href="#S" x="1120" y="388"/><use id="r41" href="#S" x="1127" y="388"/><use id="r42" href="#SP" x="1135" y="388"/><use id="r43" href="#SD" x="1145" y="388"/><use id="r44" href="#S" x="1140" y="397" fill="#111"/><use id="r45" href="#CD" x="1121" y="399"/><use id="r46" href="#SP" x="1118" y="415"/>
<use id="r47" href="#CD" x="1156" y="277"/><use id="r48" href="#SD" x="1212" y="277"/><use id="r49" href="#SD" x="1230" y="277"/><use id="r50" href="#SD" x="1149" y="305"/><use id="r51" href="#SD" x="1158" y="305"/><use id="r52" href="#S" x="1165" y="305"/><use id="r53" href="#SD" x="1175" y="305"/><use id="r54" href="#CD" x="1182" y="305"/><use id="r55" href="#SD" x="1197" y="305"/><use id="r56" href="#S" x="1149" y="323"/><use id="r57" href="#CD" x="1158" y="323"/><use id="r58" href="#C" x="1173" y="323" fill="#111"/><use id="r59" href="#S" x="1193" y="323"/><use id="r60" href="#C" x="1154" y="341" fill="#111"/><use id="r61" href="#CD" x="1145" y="352"/><use id="r62" href="#C" x="1156" y="369" fill="#111"/><use id="r63" href="#CD" x="1182" y="333"/><use id="r64" href="#C" x="1175" y="352"/><use id="r65" href="#CD" x="1191" y="360"/><use id="r66" href="#C" x="1178" y="378"/><use id="r67" href="#S" x="1217" y="296" fill="#111"/><use id="r68" href="#C" x="1228" y="296" fill="#111"/><use id="r69" href="#CD" x="1232" y="315"/><use id="r70" href="#C" x="1223" y="332" fill="#111"/>

<use id="n1" href="#CD" x="363" y="437"/><use id="n2" href="#SD" x="378" y="435"/><use id="n3" href="#SD" x="402" y="435"/><use id="n4" href="#CD" x="409" y="435"/><use id="n5" href="#SD" x="428" y="435"/><use id="n6" href="#C" x="441" y="435"/><use id="n7" href="#C" x="422" y="452" fill="#111"/><use id="n8" href="#CP" x="436" y="462"/><use id="n9" href="#S" x="373" y="470" fill="#111"/><use id="n10" href="#CD" x="395" y="462"/><use id="n11" href="#CD" x="358" y="480"/><use id="n12" href="#S" x="413" y="480" fill="#f0e020"/><use id="n13" href="#C" x="405" y="487" fill="#111"/><use id="n14" href="#SD" x="385" y="475"/><use id="n15" href="#CD" x="420" y="490"/>
<use id="p1" href="#SD" x="413" y="590"/><use id="p2" href="#SD" x="398" y="608"/><use id="p3" href="#CD" x="413" y="608"/><use id="p4" href="#S" x="407" y="627" fill="#111"/>
</g>

<g id="probands">
<use href="#A" x="1017" y="231"/><use href="#A" x="1027" y="231"/><use href="#A" x="1042" y="231"/>
<use href="#A" x="118" y="277"/><use href="#A" x="133" y="277"/><use href="#A" x="143" y="277"/><use href="#A" x="160" y="277"/><use href="#A" x="236" y="277"/><use href="#A" x="276" y="277"/><use href="#A" x="305" y="277"/><use href="#A" x="327" y="277"/><use href="#A" x="173" y="296"/><use href="#A" x="187" y="296"/><use href="#A" x="212" y="296"/><use href="#A" x="237" y="305"/>
<use href="#A" x="412" y="277"/><use href="#A" x="419" y="277"/><use href="#A" x="362" y="313"/><use href="#A" x="369" y="313"/><use href="#A" x="383" y="313"/><use href="#A" x="423" y="313"/><use href="#A" x="433" y="313"/><use href="#A" x="445" y="313"/><use href="#A" x="463" y="313"/><use href="#A" x="469" y="313"/><use href="#A" x="481" y="313"/><use href="#A" x="495" y="313"/><use href="#A" x="509" y="313"/><use href="#A" x="525" y="313"/><use href="#A" x="533" y="313"/><use href="#A" x="354" y="305"/><use href="#A" x="384" y="332"/><use href="#A" x="392" y="332"/><use href="#A" x="402" y="332"/><use href="#A" x="436" y="332"/><use href="#A" x="490" y="332"/><use href="#A" x="497" y="332"/><use href="#A" x="520" y="332"/><use href="#A" x="421" y="351"/>
<use href="#A" x="209" y="360"/><use href="#A" x="234" y="360"/><use href="#A" x="244" y="360"/><use href="#A" x="224" y="342"/><use href="#A" x="251" y="397"/><use href="#A" x="214" y="433"/><use href="#A" x="232" y="433"/><use href="#A" x="265" y="433"/>
<use href="#A" x="79" y="452"/><use href="#A" x="110" y="452"/><use href="#A" x="80" y="497"/><use href="#A" x="125" y="470"/><use href="#A" x="118" y="534"/><use href="#A" x="145" y="507"/><use href="#A" x="182" y="526"/><use href="#A" x="137" y="553"/><use href="#A" x="153" y="553"/><use href="#A" x="170" y="553"/><use href="#A" x="187" y="553"/><use href="#A" x="202" y="553"/>
<use href="#A" x="349" y="516"/><use href="#A" x="408" y="516"/><use href="#A" x="263" y="535"/><use href="#A" x="303" y="535"/><use href="#A" x="325" y="545"/><use href="#A" x="349" y="535"/><use href="#A" x="365" y="535"/><use href="#A" x="406" y="535"/><use href="#A" x="360" y="550"/><use href="#A" x="379" y="553"/><use href="#A" x="395" y="553"/><use href="#A" x="256" y="590"/><use href="#A" x="281" y="572"/><use href="#A" x="312" y="580"/><use href="#A" x="337" y="581"/><use href="#A" x="423" y="535"/>
<use href="#A" x="473" y="563"/><use href="#A" x="485" y="563"/><use href="#A" x="510" y="572"/><use href="#A" x="517" y="572"/><use href="#A" x="441" y="590"/><use href="#A" x="448" y="590"/><use href="#A" x="456" y="590"/><use href="#A" x="471" y="590"/><use href="#A" x="424" y="608"/><use href="#A" x="471" y="618"/><use href="#A" x="483" y="618"/><use href="#A" x="502" y="682"/>
<use href="#A" x="506" y="415"/><use href="#A" x="508" y="433"/><use href="#A" x="518" y="433"/><use href="#A" x="539" y="443"/><use href="#A" x="471" y="488"/><use href="#A" x="488" y="488"/><use href="#A" x="508" y="479"/><use href="#A" x="524" y="479"/><use href="#A" x="537" y="479"/><use href="#A" x="608" y="507"/><use href="#A" x="603" y="452"/><use href="#A" x="582" y="433"/><use href="#A" x="622" y="443"/><use href="#A" x="640" y="462"/>
<use href="#A" x="685" y="305"/><use href="#A" x="700" y="324"/><use href="#A" x="714" y="305"/><use href="#A" x="724" y="305"/><use href="#A" x="734" y="305"/><use href="#A" x="751" y="305"/><use href="#A" x="761" y="305"/><use href="#A" x="806" y="323"/><use href="#A" x="827" y="323"/><use href="#A" x="773" y="313"/><use href="#A" x="855" y="305"/><use href="#A" x="867" y="305"/><use href="#A" x="677" y="388"/><use href="#A" x="693" y="388"/><use href="#A" x="717" y="378"/><use href="#A" x="747" y="378"/><use href="#A" x="762" y="378"/>
<use href="#A" x="998" y="268"/><use href="#A" x="923" y="278"/><use href="#A" x="948" y="278"/><use href="#A" x="921" y="305"/><use href="#A" x="939" y="368"/><use href="#A" x="862" y="378"/><use href="#A" x="870" y="378"/>
<use href="#A" x="810" y="453"/><use href="#A" x="827" y="450"/><use href="#A" x="778" y="452"/><use href="#A" x="849" y="453"/><use href="#A" x="887" y="487"/><use href="#A" x="749" y="507"/><use href="#A" x="763" y="507"/><use href="#A" x="800" y="507"/><use href="#A" x="822" y="507"/><use href="#A" x="783" y="517"/><use href="#A" x="731" y="525"/>
<use href="#A" x="882" y="526"/><use href="#A" x="939" y="526"/><use href="#A" x="948" y="526"/><use href="#A" x="993" y="526"/><use href="#A" x="1017" y="526"/><use href="#A" x="892" y="572"/><use href="#A" x="904" y="572"/><use href="#A" x="914" y="572"/><use href="#A" x="924" y="572"/><use href="#A" x="939" y="572"/><use href="#A" x="956" y="572"/><use href="#A" x="966" y="572"/><use href="#A" x="1012" y="572"/><use href="#A" x="973" y="590"/><use href="#A" x="988" y="590"/><use href="#A" x="1003" y="590"/><use href="#A" x="990" y="553"/><use href="#A" x="998" y="553"/><use href="#A" x="846" y="608"/><use href="#A" x="860" y="608"/><use href="#A" x="870" y="608"/><use href="#A" x="885" y="608"/><use href="#A" x="909" y="608"/><use href="#A" x="850" y="646"/><use href="#A" x="860" y="646"/><use href="#A" x="870" y="646"/><use href="#A" x="880" y="646"/>
<use href="#A" x="600" y="553"/><use href="#A" x="547" y="563"/><use href="#A" x="555" y="563"/><use href="#A" x="672" y="600"/><use href="#A" x="529" y="599"/><use href="#A" x="537" y="599"/><use href="#A" x="575" y="599"/><use href="#A" x="596" y="600"/><use href="#A" x="583" y="618"/><use href="#A" x="529" y="627"/><use href="#A" x="567" y="636"/><use href="#A" x="592" y="654"/><use href="#A" x="596" y="673"/><use href="#A" x="567" y="673"/><use href="#A" x="650" y="618"/><use href="#A" x="699" y="636"/><use href="#A" x="682" y="677"/><use href="#A" x="695" y="677"/><use href="#A" x="759" y="608"/><use href="#A" x="772" y="608"/><use href="#A" x="733" y="646"/><use href="#A" x="751" y="691"/><use href="#A" x="748" y="553"/><use href="#A" x="766" y="553"/><use href="#A" x="768" y="572"/><use href="#A" x="776" y="572"/><use href="#A" x="783" y="572"/><use href="#A" x="808" y="553"/><use href="#A" x="817" y="563"/><use href="#A" x="796" y="590"/><use href="#A" x="806" y="590"/><use href="#A" x="813" y="590"/><use href="#A" x="835" y="608"/><use href="#A" x="810" y="655"/>
<use href="#A" x="1035" y="297"/><use href="#A" x="1053" y="295"/><use href="#A" x="1103" y="341"/><use href="#A" x="1118" y="341"/><use href="#A" x="1008" y="368"/><use href="#A" x="1007" y="388"/><use href="#A" x="1015" y="388"/><use href="#A" x="1022" y="388"/><use href="#A" x="1045" y="388"/><use href="#A" x="1052" y="388"/><use href="#A" x="1060" y="388"/><use href="#A" x="1075" y="388"/><use href="#A" x="1090" y="388"/><use href="#A" x="1105" y="388"/><use href="#A" x="1140" y="397"/><use href="#A" x="1118" y="415"/><use href="#A" x="1032" y="322"/><use href="#A" x="1040" y="322"/><use href="#A" x="1055" y="322"/><use href="#A" x="1070" y="322"/><use href="#A" x="1084" y="322"/>
<use href="#A" x="1154" y="341"/><use href="#A" x="1156" y="369"/><use href="#A" x="1178" y="378"/><use href="#A" x="1173" y="323"/><use href="#A" x="1193" y="323"/><use href="#A" x="1217" y="296"/><use href="#A" x="1228" y="296"/><use href="#A" x="1145" y="352"/>
<use href="#A" x="422" y="452"/><use href="#A" x="436" y="462"/><use href="#A" x="373" y="470"/><use href="#A" x="413" y="480"/><use href="#A" x="405" y="487"/><use href="#A" x="407" y="627"/>
</g>
</svg>
